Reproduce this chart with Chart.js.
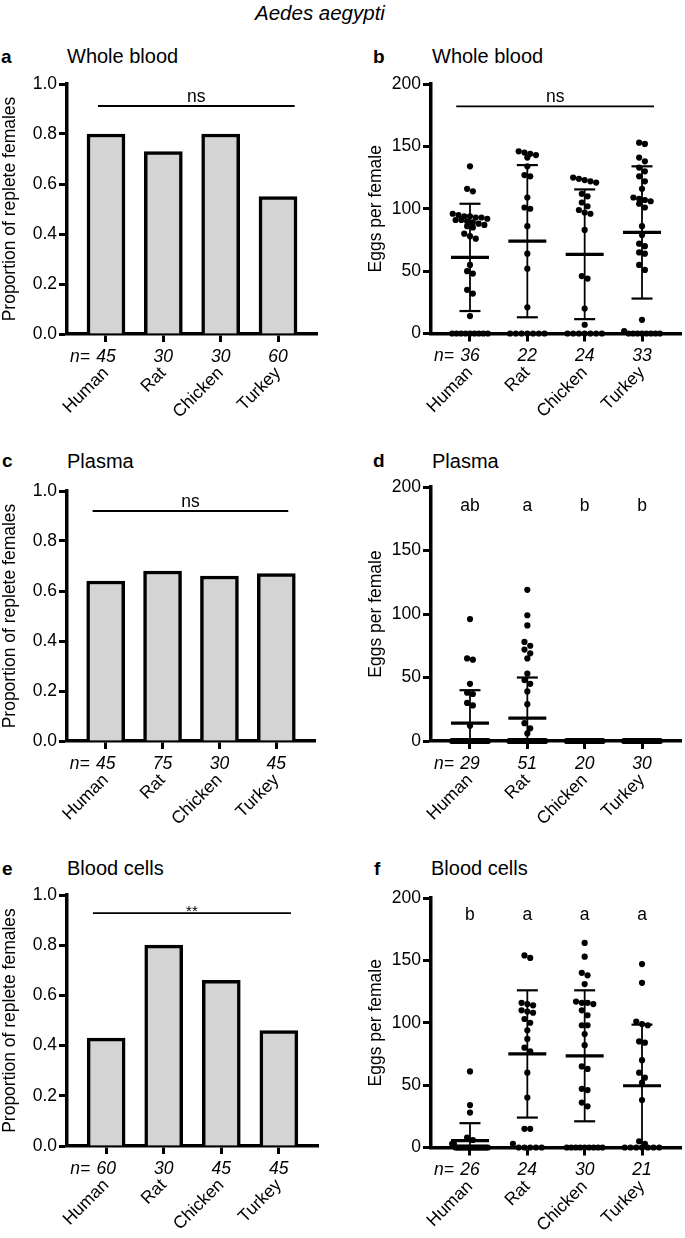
<!DOCTYPE html>
<html>
<head>
<meta charset="utf-8">
<script src="https://cdn.jsdelivr.net/npm/chart.js@4.4.1/dist/chart.umd.min.js"></script>
<style>
body{margin:0;background:#fff;font-family:"Liberation Sans",Arial,Helvetica,sans-serif;}
#page{position:relative;width:685px;height:1238px;overflow:hidden;background:#fff;}
canvas{position:absolute;}
.lbl{position:absolute;white-space:nowrap;line-height:1;color:#000;}
.letter{font-weight:bold;font-size:19px;}
.title{font-size:20px;}
</style>
</head>
<body>
<div id="page">

<div class="lbl" style="left:255px;top:3px;font-size:20.5px;font-style:italic">Aedes aegypti</div>

<div class="lbl letter" style="left:1px;top:47px">a</div>
<div class="lbl title" style="left:67px;top:46px">Whole blood</div>
<div class="lbl letter" style="left:373px;top:47px">b</div>
<div class="lbl title" style="left:432px;top:46px">Whole blood</div>

<div class="lbl letter" style="left:2px;top:451px">c</div>
<div class="lbl title" style="left:67px;top:451px">Plasma</div>
<div class="lbl letter" style="left:373px;top:451px">d</div>
<div class="lbl title" style="left:432px;top:451px">Plasma</div>

<div class="lbl letter" style="left:2px;top:859px">e</div>
<div class="lbl title" style="left:67px;top:858px">Blood cells</div>
<div class="lbl letter" style="left:374px;top:859px">f</div>
<div class="lbl title" style="left:431px;top:858px">Blood cells</div>

<canvas id="chartA"></canvas>
<canvas id="chartB"></canvas>
<canvas id="chartC"></canvas>
<canvas id="chartD"></canvas>
<canvas id="chartE"></canvas>
<canvas id="chartF"></canvas>
</div>

<script>

/* DATA */

const categories = ["Human", "Rat", "Chicken", "Turkey"];

const propTicks = [0, 0.2, 0.4, 0.6, 0.8, 1.0];
const eggTicks = [0, 50, 100, 150, 200];

// a - whole blood, proportion replete
const wholeBloodProp = [0.80, 0.73, 0.80, 0.55];
const wholeBloodPropN = [45, 30, 30, 60];
const wholeBloodPropSig = [-0.14, 3.29, 0.912];

// c - plasma, proportion replete
const plasmaProp = [0.64, 0.68, 0.66, 0.67];
const plasmaPropN = [45, 75, 30, 45];
const plasmaPropSig = [-0.23, 3.21, 0.92];

// e - blood cells, proportion replete
const cellsProp = [0.43, 0.80, 0.66, 0.46];
const cellsPropN = [60, 30, 45, 45];
const cellsPropSig = [-0.23, 3.21, 0.928];

// b - whole blood, eggs per female
const wbEggsHuman = [134, 116, 114, 96, 95, 94, 94, 93, 93, 92, 91, 91, 90, 89, 88, 87, 86, 85,
    80, 78, 76, 55, 50, 48, 35, 32, 14, 0, 0, 0, 0, 0, 0, 0, 0, 0];
const wbEggsRat = [146, 145, 144, 143, 141, 134, 127, 126, 109, 101, 100, 86, 64, 52, 21,
    0, 0, 0, 0, 0, 0, 0];
const wbEggsChicken = [125, 124, 123, 122, 121, 112, 110, 105, 102, 99, 97, 96, 83, 46, 44, 20, 7,
    0, 0, 0, 0, 0, 0, 0];
const wbEggsTurkey = [153, 152, 141, 138, 133, 130, 126, 122, 116, 109, 108, 107, 106, 104, 101,
    86, 79, 72, 70, 65, 64, 55, 51, 11, 2, 0, 0, 0, 0, 0, 0, 0, 0];
const wbEggsMean = [61, 74, 63.5, 81];
const wbEggsSD = [43, 61, 52, 53];
const wbEggsN = [36, 22, 24, 33];
const wbEggsSig = [-0.24, 3.21, 182];

// d - plasma, eggs per female
const plEggsHuman = [96, 65, 64, 45, 38, 37, 30, 28, 12,
    0, 0, 0, 0, 0, 0, 0, 0, 0, 0, 0, 0, 0, 0, 0, 0, 0, 0, 0, 0];
const plEggsRat = [119, 99, 91, 78, 75, 72, 69, 65, 53, 48, 45, 39, 29, 14, 10, 6,
    0, 0, 0, 0, 0, 0, 0, 0, 0, 0, 0, 0, 0, 0, 0, 0, 0, 0, 0, 0,
    0, 0, 0, 0, 0, 0, 0, 0, 0, 0, 0, 0, 0, 0, 0];
const plEggsChicken = [0, 0, 0, 0, 0, 0, 0, 0, 0, 0, 0, 0, 0, 0, 0, 0, 0, 0, 0, 0];
const plEggsTurkey = [0, 0, 0, 0, 0, 0, 0, 0, 0, 0, 0, 0, 0, 0, 0,
    0, 0, 0, 0, 0, 0, 0, 0, 0, 0, 0, 0, 0, 0, 0];
const plEggsMean = [14, 18, 0, 0];
const plEggsSD = [26, 32, 0, 0];
const plEggsN = [29, 51, 20, 30];
const plEggsLetters = ["ab", "a", "b", "b"];
const plEggsLetterY = 181;

// f - blood cells, eggs per female
const bcEggsHuman = [61, 34, 28, 8, 6, 3, 3,
    0, 0, 0, 0, 0, 0, 0, 0, 0, 0, 0, 0, 0, 0, 0, 0, 0, 0, 0];
const bcEggsRat = [154, 152, 116, 115, 114, 110, 109, 108, 103, 100, 94, 87, 80, 77, 60, 40, 15, 15, 3,
    0, 0, 0, 0, 0];
const bcEggsChicken = [164, 153, 140, 138, 131, 117, 116, 116, 115, 110, 106, 98, 98, 91, 82, 65, 63,
    47, 46, 36, 33, 0, 0, 0, 0, 0, 0, 0, 0, 0];
const bcEggsTurkey = [147, 132, 101, 99, 98, 85, 84, 70, 60, 56, 52, 38, 5, 3,
    0, 0, 0, 0, 0, 0, 0];
const bcEggsMean = [5.5, 75, 73.5, 49.5];
const bcEggsSD = [14, 51, 52.5, 49];
const bcEggsN = [26, 24, 30, 21];
const bcEggsLetters = ["b", "a", "a", "a"];
const bcEggsLetterY = 182;

/* SETTINGS */

const FONT = '"Liberation Sans", Arial, Helvetica, sans-serif';
const X_MIN = -0.68;
const X_MAX = 3.68;
const DOT = 5.8;     // spacing of dots in a row (px)
const MAXW = 36;     // widest a row of dots may get (px)

Chart.defaults.font.family = FONT;
Chart.defaults.color = "#000";
Chart.defaults.animation = false;

/* AXES */

function xAxis(xHeight){

    return {
        type: "linear",
        min: X_MIN,
        max: X_MAX,
        offset: false,
        afterBuildTicks: s => {
            s.ticks = categories.map((c, i) => ({ value: i }));
        },
        afterFit: s => { s.height = xHeight; },
        ticks: {
            callback: v => categories[v],
            autoSkip: false,
            minRotation: 45,
            maxRotation: 45,
            padding: 21,
            color: "#000",
            font: { size: 17.5 }
        },
        grid: {
            offset: false,
            drawOnChartArea: false,
            drawTicks: true,
            tickLength: 8,
            tickWidth: 3,
            tickColor: "#000"
        },
        border: { display: true, width: 3.5, color: "#000" }
    };

}

function yAxis(yWidth, max, tickValues, digits, titleText){

    return {
        min: 0,
        max: max,
        afterFit: s => { s.width = yWidth; },
        afterBuildTicks: s => {
            s.ticks = tickValues.map(v => ({ value: v }));
        },
        ticks: {
            callback: v => v.toFixed(digits),
            padding: 2,
            color: "#000",
            font: { size: 17.5 }
        },
        grid: {
            drawOnChartArea: false,
            drawTicks: true,
            tickLength: 8,
            tickWidth: 3,
            tickColor: "#000"
        },
        border: { display: true, width: 3.5, color: "#000" },
        title: {
            display: true,
            text: titleText,
            color: "#000",
            padding: 0,
            font: { size: 17.5 }
        }
    };

}

/* PLUGINS */

function nLabelPlugin(nValues){

    return {
        id: "nLabels",
        afterDraw(chart){
            const ctx = chart.ctx;
            const xs = chart.scales.x;
            const y = chart.chartArea.bottom + 23;
            ctx.save();
            ctx.fillStyle = "#000";
            ctx.font = "italic 17.5px " + FONT;
            ctx.textBaseline = "middle";
            ctx.textAlign = "right";
            ctx.fillText("n=", xs.getPixelForValue(0) - 16, y);
            ctx.textAlign = "center";
            nValues.forEach((n, i) => {
                ctx.fillText(String(n), xs.getPixelForValue(i), y);
            });
            ctx.restore();
        }
    };

}

function sigPlugin(sig, text, size, lift){

    return {
        id: "sigLine",
        afterDatasetsDraw(chart){
            const ctx = chart.ctx;
            const xs = chart.scales.x;
            const ys = chart.scales.y;
            const x1 = xs.getPixelForValue(sig[0]);
            const x2 = xs.getPixelForValue(sig[1]);
            const y = ys.getPixelForValue(sig[2]);
            ctx.save();
            ctx.strokeStyle = "#000";
            ctx.lineWidth = 1.8;
            ctx.beginPath();
            ctx.moveTo(x1, y);
            ctx.lineTo(x2, y);
            ctx.stroke();
            ctx.fillStyle = "#000";
            ctx.font = size + "px " + FONT;
            ctx.textAlign = "center";
            ctx.textBaseline = "alphabetic";
            ctx.fillText(text, (x1 + x2) / 2, y - lift);
            ctx.restore();
        }
    };

}

function letterPlugin(letters, value){

    return {
        id: "letters",
        afterDatasetsDraw(chart){
            const ctx = chart.ctx;
            const xs = chart.scales.x;
            const y = chart.scales.y.getPixelForValue(value);
            ctx.save();
            ctx.fillStyle = "#000";
            ctx.font = "17.5px " + FONT;
            ctx.textAlign = "center";
            ctx.textBaseline = "alphabetic";
            letters.forEach((t, i) => {
                ctx.fillText(t, xs.getPixelForValue(i), y);
            });
            ctx.restore();
        }
    };

}

function errorBarPlugin(means, sds){

    function seg(ctx, x1, y1, x2, y2, w){
        ctx.lineWidth = w;
        ctx.beginPath();
        ctx.moveTo(x1, y1);
        ctx.lineTo(x2, y2);
        ctx.stroke();
    }

    return {
        id: "errorBars",
        afterDatasetsDraw(chart){
            const ctx = chart.ctx;
            const xs = chart.scales.x;
            const ys = chart.scales.y;
            ctx.save();
            ctx.strokeStyle = "#000";
            means.forEach((m, i) => {
                const cx = xs.getPixelForValue(i);
                const hi = m + sds[i];
                const lo = m - sds[i];
                const yHi = ys.getPixelForValue(hi);
                const yLo = ys.getPixelForValue(Math.max(lo, 0));
                const yMean = ys.getPixelForValue(m);
                if(sds[i] > 0){
                    seg(ctx, cx, yHi, cx, yLo, 1.8);
                    seg(ctx, cx - 10.5, yHi, cx + 10.5, yHi, 2.2);
                    if(lo > 0){
                        seg(ctx, cx - 10.5, yLo, cx + 10.5, yLo, 2.2);
                    }
                }
                seg(ctx, cx - 19, yMean, cx + 19, yMean, 3.2);
            });
            ctx.restore();
        }
    };

}

/* DOT ROWS (column scatter) */

function swarm(values, catIndex, pxPerUnit, pxPerCat){

    const sorted = [...values].sort((a, b) => b - a);
    const rows = [];

    sorted.forEach(v => {
        const row = rows[rows.length - 1];
        if(row && (row[0] - v) * pxPerUnit < DOT){
            row.push(v);
        }else{
            rows.push([v]);
        }
    });

    const points = [];

    rows.forEach(row => {
        const k = row.length;
        let step = DOT;
        if(k > 1){
            step = Math.min(DOT, MAXW / (k - 1));
        }
        row.forEach((v, j) => {
            points.push({
                x: catIndex + (j - (k - 1) / 2) * step / pxPerCat,
                y: v
            });
        });
    });

    return points;

}

/* PANEL SETUP */

function setCanvas(id, left, top, width, height){

    const c = document.getElementById(id);
    c.width = width;
    c.height = height;
    c.style.left = left + "px";
    c.style.top = top + "px";
    c.style.width = width + "px";
    c.style.height = height + "px";
    return c;

}

function barPanel(id, box, values, nValues, sig, sigText, sigSize, sigLift){

    const canvas = setCanvas(id, box.left, box.top, box.width, box.height);

    new Chart(canvas, {
        type: "bar",
        data: {
            datasets: [{
                data: values.map((v, i) => ({ x: i, y: v })),
                backgroundColor: "#d4d4d4",
                borderColor: "#000",
                borderWidth: 3.5,
                barThickness: 38
            }]
        },
        options: {
            responsive: false,
            animation: false,
            layout: { padding: { top: 14, right: box.padRight, left: 0, bottom: 0 } },
            plugins: {
                legend: { display: false },
                tooltip: { enabled: false }
            },
            scales: {
                x: xAxis(box.xHeight),
                y: yAxis(box.yWidth, 1, propTicks, 1, "Proportion of replete females")
            }
        },
        plugins: [nLabelPlugin(nValues), sigPlugin(sig, sigText, sigSize, sigLift)]
    });

}

function eggPanel(id, box, groups, means, sds, nValues, extraPlugin){

    const canvas = setCanvas(id, box.left, box.top, box.width, box.height);

    const plotW = box.width - box.yWidth - box.padRight;
    const plotH = box.height - 14 - box.xHeight;
    const pxPerCat = plotW / (X_MAX - X_MIN);
    const pxPerUnit = plotH / 200;

    let points = [];
    groups.forEach((g, i) => {
        points = points.concat(swarm(g, i, pxPerUnit, pxPerCat));
    });

    new Chart(canvas, {
        type: "scatter",
        data: {
            datasets: [{
                data: points,
                backgroundColor: "#000",
                borderColor: "#000",
                borderWidth: 0,
                pointRadius: 3.1,
                clip: false
            }]
        },
        options: {
            responsive: false,
            animation: false,
            layout: { padding: { top: 14, right: box.padRight, left: 0, bottom: 0 } },
            plugins: {
                legend: { display: false },
                tooltip: { enabled: false }
            },
            scales: {
                x: xAxis(box.xHeight),
                y: yAxis(box.yWidth, 200, eggTicks, 0, "Eggs per female")
            }
        },
        plugins: [errorBarPlugin(means, sds), nLabelPlugin(nValues), extraPlugin]
    });

}

/* DRAW */

barPanel("chartA",
    { left: 0, top: 70, width: 342, height: 370, yWidth: 67, padRight: 25, xHeight: 106 },
    wholeBloodProp, wholeBloodPropN, wholeBloodPropSig, "ns", 17.5, 4);

eggPanel("chartB",
    { left: 366, top: 70, width: 319, height: 370, yWidth: 65, padRight: 2, xHeight: 106.5 },
    [wbEggsHuman, wbEggsRat, wbEggsChicken, wbEggsTurkey],
    wbEggsMean, wbEggsSD, wbEggsN,
    sigPlugin(wbEggsSig, "ns", 17.5, 4));

barPanel("chartC",
    { left: 0, top: 477, width: 342, height: 370, yWidth: 67, padRight: 27, xHeight: 106 },
    plasmaProp, plasmaPropN, plasmaPropSig, "ns", 17.5, 4);

eggPanel("chartD",
    { left: 366, top: 473, width: 319, height: 370, yWidth: 65, padRight: 2, xHeight: 102 },
    [plEggsHuman, plEggsRat, plEggsChicken, plEggsTurkey],
    plEggsMean, plEggsSD, plEggsN,
    letterPlugin(plEggsLetters, plEggsLetterY));

barPanel("chartE",
    { left: 0, top: 881, width: 342, height: 357, yWidth: 67, padRight: 24, xHeight: 92 },
    cellsProp, cellsPropN, cellsPropSig, "**", 15, -3);

eggPanel("chartF",
    { left: 366, top: 884, width: 319, height: 354, yWidth: 65, padRight: 2, xHeight: 90.5 },
    [bcEggsHuman, bcEggsRat, bcEggsChicken, bcEggsTurkey],
    bcEggsMean, bcEggsSD, bcEggsN,
    letterPlugin(bcEggsLetters, bcEggsLetterY));

</script>
</body>
</html>
